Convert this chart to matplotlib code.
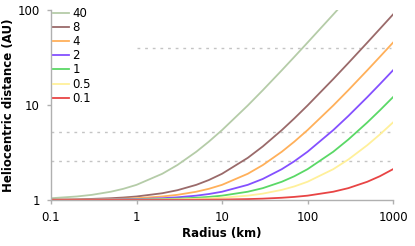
import matplotlib
matplotlib.use("Agg")
import matplotlib.pyplot as plt

# radius (km) sample points
radius = [0.1, 0.2, 0.3, 0.5, 0.7, 1, 2, 3, 5, 7, 10, 20, 30, 50, 70,
          100, 200, 300, 500, 700, 1000]

# heliocentric distance (AU) per series
d40 = [1.044, 1.089, 1.133, 1.222, 1.311, 1.444, 1.889, 2.333, 3.222, 4.111,
       5.444, 9.889, 14.33, 23.22, 32.11, 45.44, 89.89, 134.3, 223.2, 312.1, 445.4]
d8 = [1.009, 1.018, 1.027, 1.044, 1.062, 1.089, 1.178, 1.267, 1.444, 1.622,
      1.889, 2.778, 3.667, 5.444, 7.222, 9.889, 18.78, 27.67, 45.44, 63.22, 89.89]
d4 = [1.004, 1.009, 1.013, 1.022, 1.031, 1.044, 1.089, 1.133, 1.222, 1.311,
      1.444, 1.889, 2.333, 3.222, 4.111, 5.444, 9.889, 14.33, 23.22, 32.11, 45.44]
d2 = [1.002, 1.004, 1.007, 1.011, 1.016, 1.022, 1.044, 1.067, 1.111, 1.156,
      1.222, 1.444, 1.667, 2.111, 2.556, 3.222, 5.444, 7.667, 12.11, 16.56, 23.22]
d1 = [1.001, 1.002, 1.003, 1.006, 1.008, 1.011, 1.022, 1.033, 1.056, 1.078,
      1.111, 1.222, 1.333, 1.556, 1.778, 2.111, 3.222, 4.333, 6.556, 8.778, 12.11]
d05 = [1.001, 1.001, 1.002, 1.003, 1.004, 1.006, 1.011, 1.017, 1.028, 1.039,
       1.056, 1.111, 1.167, 1.278, 1.389, 1.556, 2.111, 2.667, 3.778, 4.889, 6.556]
d01 = [1.000, 1.000, 1.000, 1.001, 1.001, 1.001, 1.002, 1.003, 1.006, 1.008,
       1.011, 1.022, 1.033, 1.056, 1.078, 1.111, 1.222, 1.333, 1.556, 1.778, 2.111]

labels = ["40", "8", "4", "2", "1", "0.5", "0.1"]
series = [d40, d8, d4, d2, d1, d05, d01]
colors = ["#b5cca8", "#9a6a6a", "#ffb05a", "#8450ff", "#5ad866", "#fff09a", "#e84444"]

# reference distances (dashed): value, x start, x end
ref_dist = [40, 5.2, 2.6]
ref_start = [1, 0.1, 0.1]
ref_end = [950, 950, 950]

fig = plt.figure(figsize=(4.15, 2.46), dpi=100)
ax = fig.add_axes([0.123, 0.187, 0.824, 0.772])

for yv, x0, x1 in zip(ref_dist, ref_start, ref_end):
    ax.plot([x0, x1], [yv, yv], color="#c4c4c4", lw=1.0, ls=(0, (2, 3.5)), zorder=1)

for lab, ys, c in zip(labels, series, colors):
    ax.plot(radius, ys, color=c, lw=1.3, label=lab, zorder=2)

ax.set_xscale("log")
ax.set_yscale("log")
ax.set_xlim(0.1, 1000)
ax.set_ylim(1, 100)
ax.set_xticks([0.1, 1, 10, 100, 1000])
ax.set_xticklabels(["0.1", "1", "10", "100", "1000"])
ax.set_yticks([1, 10, 100])
ax.set_yticklabels(["1", "10", "100"])
ax.minorticks_off()

for s in ["top", "right"]:
    ax.spines[s].set_visible(False)
for s in ["left", "bottom"]:
    ax.spines[s].set_color("#b0b0b0")
    ax.spines[s].set_linewidth(1.0)
ax.tick_params(axis="both", colors="#b0b0b0", labelcolor="black", labelsize=8.5,
               length=3, width=1.0, pad=5)

ax.set_xlabel("Radius (km)", fontsize=8.5, fontweight="bold", labelpad=2)
ax.set_ylabel("Heliocentric distance (AU)", fontsize=8.5, fontweight="bold", labelpad=2)

ax.legend(loc="upper left", bbox_to_anchor=(0.0, 1.03), frameon=False, fontsize=8.5,
          handlelength=1.3, handletextpad=0.3, labelspacing=0.1, borderaxespad=0,
          borderpad=0.2)

fig.savefig("out.png", dpi=100)
